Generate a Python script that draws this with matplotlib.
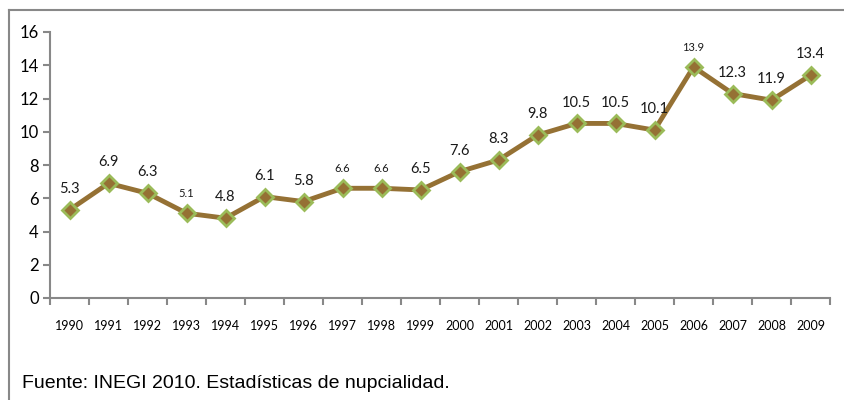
import matplotlib
matplotlib.use("Agg")
import matplotlib.pyplot as plt
from matplotlib.lines import Line2D

years = ["1990", "1991", "1992", "1993", "1994", "1995", "1996", "1997", "1998", "1999",
         "2000", "2001", "2002", "2003", "2004", "2005", "2006", "2007", "2008", "2009"]
values = [5.3, 6.9, 6.3, 5.1, 4.8, 6.1, 5.8, 6.6, 6.6, 6.5,
          7.6, 8.3, 9.8, 10.5, 10.5, 10.1, 13.9, 12.3, 11.9, 13.4]
small_labels = {"1993", "1997", "1998", "2006"}

plt.rcParams['font.family'] = ['Lato', 'DejaVu Sans']

fig = plt.figure(figsize=(8.45, 4.0), dpi=100)
ax = fig.add_axes([50/845, 1 - 298/400, 780/845, (298 - 32)/400])

x = list(range(len(years)))
ax.plot(x, values, color='#957134', lw=3.5, marker='D', markersize=8,
        markerfacecolor='#957134', markeredgecolor='#9BBB59', markeredgewidth=2, zorder=3)

for xi, (yr, v) in enumerate(zip(years, values)):
    fs = 8 if yr in small_labels else 10.5
    ax.annotate(f"{v}", (xi, v), xytext=(0, 10), textcoords='offset points',
                ha='center', va='bottom', fontsize=fs, color='#1a1a1a')

ax.set_xlim(-0.5, len(years) - 0.5)
ax.set_ylim(0, 16)
ax.set_yticks(range(0, 17, 2))
ax.tick_params(axis='y', labelsize=12, length=5, width=1.5, color='#888888', pad=3)
ax.set_xticks(x)
ax.set_xticklabels(years)
ax.tick_params(axis='x', which='major', length=0, labelsize=9, pad=16)
ax.set_xticks([i - 0.5 for i in range(len(years) + 1)], minor=True)
ax.tick_params(axis='x', which='minor', length=5, width=1.5, color='#888888')

for s in ['top', 'right']:
    ax.spines[s].set_visible(False)
for s in ['left', 'bottom']:
    ax.spines[s].set_color('#888888')
    ax.spines[s].set_linewidth(1.5)

# outer frame (left and top only visible)
fig.add_artist(Line2D([9/845, 9/845], [0, 1 - 10/400], transform=fig.transFigure,
                      color='#888888', lw=1.5))
fig.add_artist(Line2D([9/845, 1], [1 - 10/400, 1 - 10/400], transform=fig.transFigure,
                      color='#888888', lw=1.5))

fig.text(22/845, 1 - 383/400, "Fuente: INEGI 2010. Estadísticas de nupcialidad.",
         fontsize=14, family=['Liberation Sans', 'DejaVu Sans'], va='center', ha='left')

fig.savefig("out.png", dpi=100)
